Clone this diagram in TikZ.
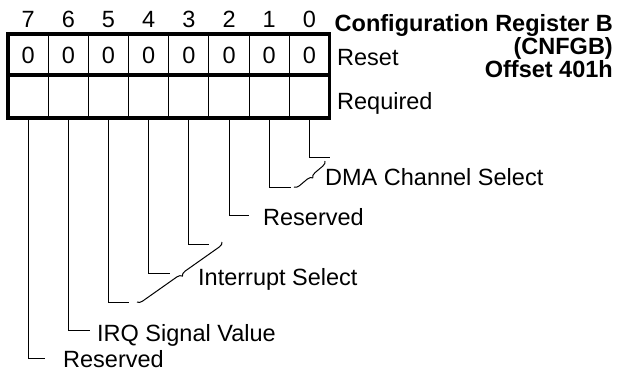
\documentclass[tikz,border=0pt]{standalone}
\usepackage{fontspec}
\setmainfont{Liberation Sans}
\usetikzlibrary{decorations.pathreplacing}
\begin{document}
\begin{tikzpicture}[x=1pt,y=-1pt,
  txt/.style={font=\fontsize{23.5}{28}\selectfont, inner sep=0pt},
  lbl/.style={txt, anchor=base west},
  ttl/.style={font=\fontsize{23.5}{28}\selectfont\bfseries, inner sep=0pt, anchor=base east},
  lead/.style={line width=1pt},
  divider/.style={line width=1pt},
  regframe/.style={line width=3.8pt},
  brc/.style={line width=1pt, decorate, decoration={brace, amplitude=5pt}}]
\useasboundingbox (0,0) rectangle (621,375);
% register grid
\foreach \i in {1,...,7} \draw[divider] ({8+\i*40.19},34) -- ({8+\i*40.19},118);
\draw[regframe] (8,34) rectangle (329.5,118);
\draw[regframe] (8,75) -- (329.5,75);
% bit numbers, reset values, bottom coordinates
\foreach \b in {0,...,7} {
  \pgfmathsetmacro{\cx}{8+(7-\b+0.5)*40.19}
  \node[txt, anchor=base] (n\b) at (\cx,27) {\b};
  \node[txt, anchor=base] (r\b) at (\cx,63) {0};
  \coordinate (c\b) at (\cx,118);
}
% leader line ends
\coordinate (e0) at (330,157);
\coordinate (e1) at (291,187);
\coordinate (e2) at (249,215);
\coordinate (e3) at (209,244);
\coordinate (e4) at (170,273);
\coordinate (e5) at (129,302);
\coordinate (e6) at (90,330);
\coordinate (e7) at (45,358);
\foreach \b in {0,...,7} \draw[lead] (c\b) |- (e\b);
% braces
\coordinate (dA) at (294,187);
\coordinate (dB) at (325,161);
\draw[brc] (dB) -- (dA);
\coordinate (iA) at (137,302);
\coordinate (iB) at (222,242);
\draw[brc] (iB) -- (iA);
% labels
\node[lbl] (ldma) at (325,185) {DMA Channel Select};
\node[lbl] (lres2) at (263,225) {Reserved};
\node[lbl] (lint) at (198,285) {Interrupt Select};
\node[lbl] (lirq) at (97,341) {IRQ Signal Value};
\node[lbl] (lres7) at (63,367) {Reserved};
\node[lbl] (lreset) at (337,65) {Reset};
\node[lbl] (lreq) at (337,109) {Required};
% title
\node[ttl] (t1) at (613,31) {Configuration Register B};
\node[ttl] (t2) at (613,54) {(CNFGB)};
\node[ttl] (t3) at (613,77) {Offset 401h};
\end{tikzpicture}
\end{document}
